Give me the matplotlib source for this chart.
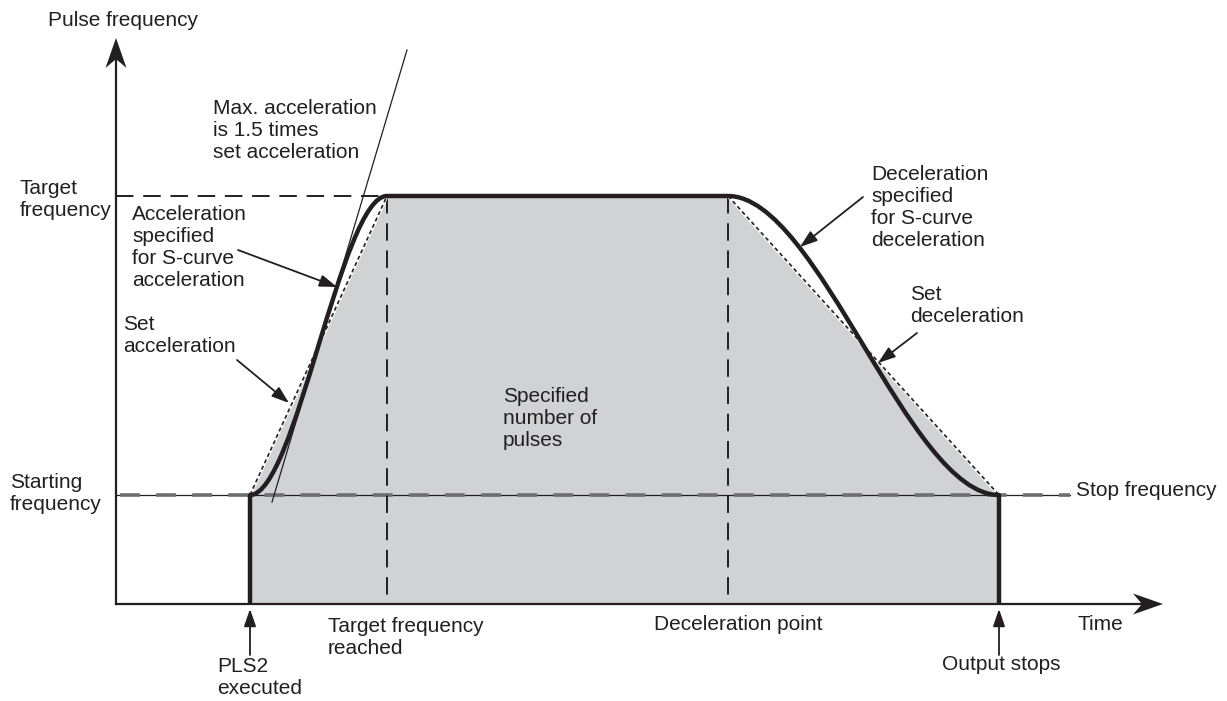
import matplotlib.pyplot as plt
from matplotlib.path import Path
from matplotlib.patches import PathPatch, Polygon

# Diagram drawn in the pixel units of the picture (y grows downward)
t_start, t_target, t_decel, t_stop = 250, 387, 728, 999
f_zero, f_start, f_target = 604, 495, 196
y_axis_x, y_axis_top = 116, 38
x_axis_end = 1163
stop_line_end = 1070
tangent_x = [272, 407]
tangent_y = [502, 50]

# text blocks: (text, x, y centre, alignment)
texts = [
    ("Pulse frequency", 48, 20, "left"),
    ("Max. acceleration\nis 1.5 times\nset acceleration", 213, 130, "left"),
    ("Target\nfrequency", 20, 200, "left"),
    ("Acceleration\nspecified\nfor S-curve\nacceleration", 132, 247, "left"),
    ("Set\nacceleration", 123, 336, "left"),
    ("Specified\nnumber of\npulses", 503, 418, "left"),
    ("Starting\nfrequency", 10, 494, "left"),
    ("Deceleration\nspecified\nfor S-curve\ndeceleration", 871, 207, "left"),
    ("Set\ndeceleration", 910, 305, "left"),
    ("Stop frequency", 1076, 490, "left"),
    ("Time", 1077, 624, "left"),
    ("Target frequency\nreached", 328, 637, "left"),
    ("Deceleration point", 654, 624, "left"),
    ("PLS2\nexecuted", 217, 678, "left"),
    ("Output stops", 942, 664, "left"),
]

# annotation arrows: (tail, head)
pointers = [
    ((238, 250), (337, 287)),
    ((237, 360), (289, 403)),
    ((863, 197), (800, 247)),
    ((917, 333), (878, 363)),
    ((t_start, 655), (t_start, 609)),
    ((t_stop, 655), (t_stop, 609)),
]

ink = "#231f20"
plt.rcParams['font.family'] = ['Liberation Sans', 'DejaVu Sans']

fig = plt.figure(figsize=(12.27, 7.01), dpi=100)
ax = fig.add_axes([0, 0, 1, 1])
ax.set_xlim(0, 1227)
ax.set_ylim(701, 0)
ax.axis('off')

# specified number of pulses (area under set acceleration profile)
ax.fill([t_start, t_start, t_target, t_decel, t_stop, t_stop],
        [f_zero, f_start, f_target, f_target, f_start, f_zero],
        color='#d1d2d4', lw=0, zorder=1)

# starting / stop frequency line
ax.plot([y_axis_x, stop_line_end], [f_start, f_start], color=ink, lw=0.9, zorder=2)
ax.plot([y_axis_x + 4, stop_line_end], [f_start, f_start], color='#6d6e70', lw=2.6,
        dashes=(5.5, 4.5), zorder=2)

# target frequency line and time markers
ax.plot([y_axis_x, t_target], [f_target, f_target], color=ink, lw=1.4,
        dashes=(9, 5), zorder=2)
for t in (t_target, t_decel):
    ax.plot([t, t], [f_target, f_zero], color=ink, lw=1.4, dashes=(9, 5), zorder=2)

# set acceleration / deceleration (straight)
for xs, ys in (([t_start, t_target], [f_start, f_target]),
               ([t_decel, t_stop], [f_target, f_start])):
    ax.plot(xs, ys, color='white', lw=2.4, zorder=3)
    ax.plot(xs, ys, color=ink, lw=1.2, dashes=(2.4, 1.8), zorder=3)

# max acceleration tangent
ax.plot(tangent_x, tangent_y, color=ink, lw=0.9, zorder=3)

# S-curve profile
da = t_target - t_start
dd = t_stop - t_decel
verts = [(t_start, f_zero), (t_start, f_start),
         (t_start + da / 3, f_start), (t_start + 2 * da / 3, f_target), (t_target, f_target),
         (t_decel, f_target),
         (t_decel + dd / 3, f_target), (t_decel + 2 * dd / 3, f_start), (t_stop, f_start),
         (t_stop, f_zero)]
codes = [Path.MOVETO, Path.LINETO,
         Path.CURVE4, Path.CURVE4, Path.CURVE4,
         Path.LINETO,
         Path.CURVE4, Path.CURVE4, Path.CURVE4,
         Path.LINETO]
ax.add_patch(PathPatch(Path(verts, codes), fill=False, edgecolor=ink, lw=3.2,
                       capstyle='butt', joinstyle='round', zorder=4))

# axes with stealth arrow heads
ax.plot([y_axis_x, y_axis_x], [f_zero, y_axis_top + 20], color=ink, lw=1.6,
        solid_capstyle='projecting', zorder=5)
ax.plot([y_axis_x, x_axis_end - 20], [f_zero, f_zero], color=ink, lw=1.6,
        solid_capstyle='projecting', zorder=5)


def stealth(tip, direction, length=30, width=21, notch=9):
    dx, dy = direction
    px, py = -dy, dx
    tx, ty = tip
    bx, by = tx - dx * length, ty - dy * length
    pts = [(tx, ty),
           (bx + px * width / 2, by + py * width / 2),
           (tx - dx * (length - notch), ty - dy * (length - notch)),
           (bx - px * width / 2, by - py * width / 2)]
    ax.add_patch(Polygon(pts, closed=True, color=ink, lw=0, zorder=6))


stealth((y_axis_x, y_axis_top), (0, -1))
stealth((x_axis_end, f_zero), (1, 0))

for tail, head in pointers:
    ax.annotate("", xy=head, xytext=tail,
                arrowprops=dict(arrowstyle='-|>,head_length=0.75,head_width=0.26',
                                color=ink, lw=1.3, shrinkA=0, shrinkB=0,
                                mutation_scale=14),
                zorder=6)

for s, x, y, ha in texts:
    ax.text(x, y, s, ha=ha, va='center', fontsize=15, color=ink,
            linespacing=1.2, zorder=7)

fig.savefig('out.png', dpi=100)
